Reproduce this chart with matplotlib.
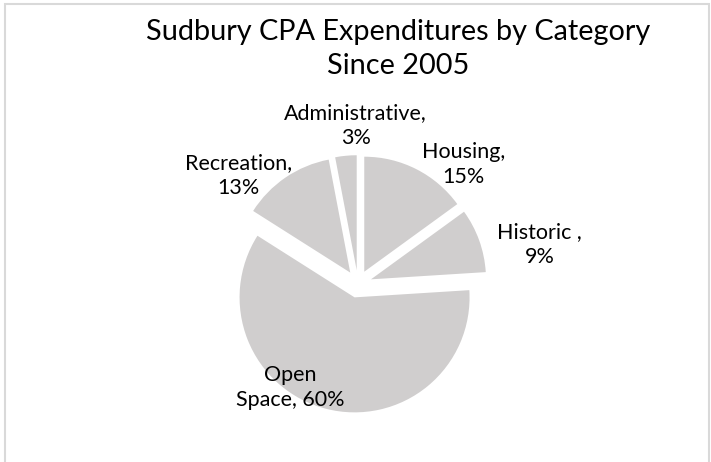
import matplotlib.pyplot as plt
from matplotlib.patches import Rectangle

categories = ['Housing', 'Historic', 'Open Space', 'Recreation', 'Administrative']
shares = [15, 9, 60, 13, 3]
labels = ['Housing,\n15%', 'Historic ,\n9%', 'Open\nSpace, 60%', 'Recreation,\n13%', 'Administrative,\n3%']
# label block centres, in pie radius units
label_pos = [(0.92, 1.04), (1.58, 0.34), (-0.59, -0.90), (-1.04, 0.94), (-0.02, 1.38)]

W, H = 711, 462
R = 115.0          # pie radius in pixels
cx, cy = 358, 284  # pie centre in pixels (from top left)

plt.rcParams['font.family'] = ['Lato', 'DejaVu Sans']

fig = plt.figure(figsize=(W / 100, H / 100), dpi=100)
fig.patches.append(Rectangle((5 / W, -0.05), (704 / W), 1.05 - 4 / H,
                             transform=fig.transFigure, fill=False,
                             edgecolor='#d9d9d9', linewidth=1.5))

ax = fig.add_axes([0, 0, 1, 1])
ax.pie(shares, startangle=90, counterclock=False, explode=[0.12] * len(shares),
       colors=['#d0cece'] * len(shares), wedgeprops=dict(linewidth=0))
ax.set_aspect('auto')
ax.set_xlim(-cx / R, (W - cx) / R)
ax.set_ylim(-(H - cy) / R, cy / R)
ax.axis('off')

for lab, (x, y) in zip(labels, label_pos):
    ax.text(x, y, lab, ha='center', va='center', fontsize=15.5,
            linespacing=1.3, color='black')

fig.text(398 / W, 1 - 49 / H, 'Sudbury CPA Expenditures by Category\nSince 2005',
         ha='center', va='center', fontsize=20.8, linespacing=1.38)

plt.savefig('out.png', dpi=100)
plt.close()
